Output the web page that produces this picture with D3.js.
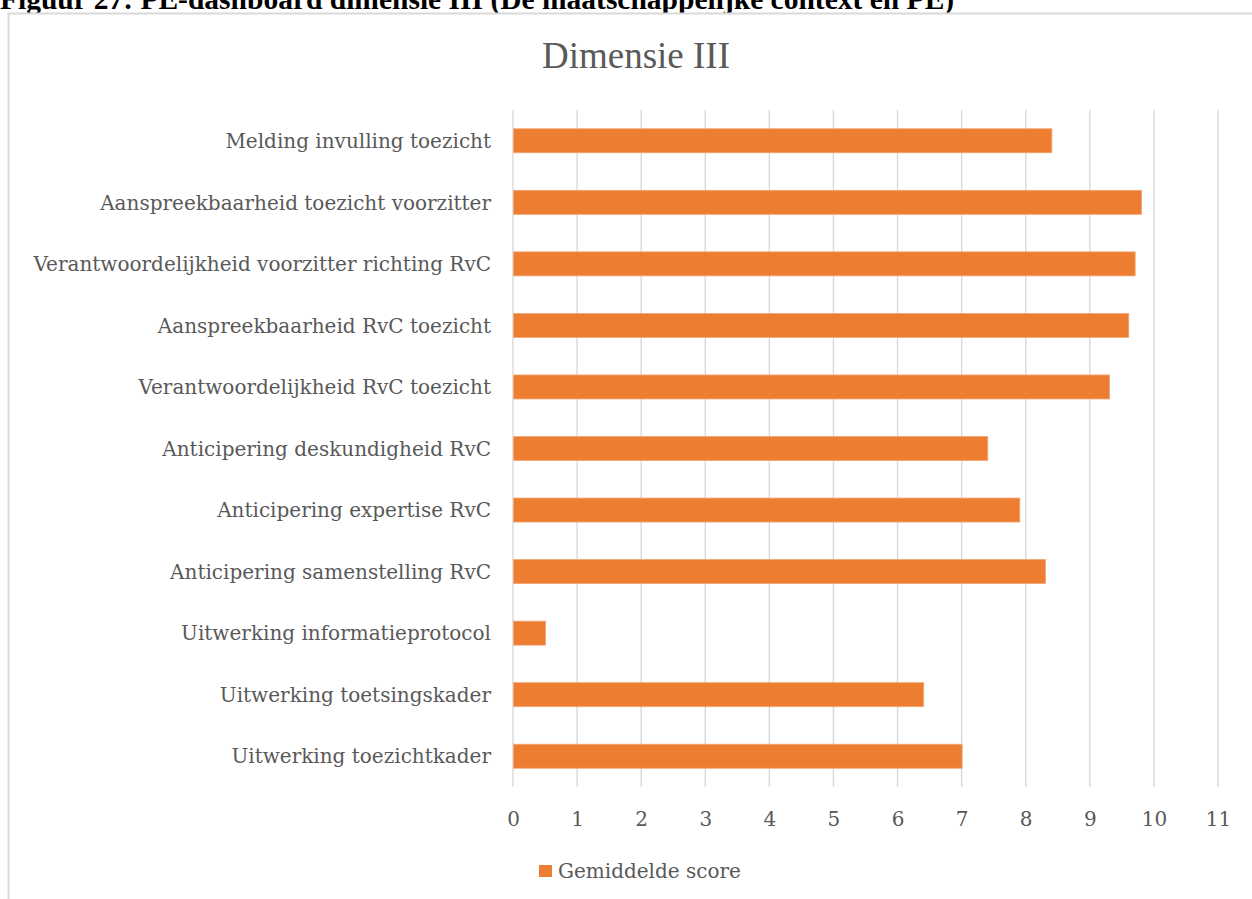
<!DOCTYPE html>
<html>
<head>
<meta charset="utf-8">
<script src="https://cdn.jsdelivr.net/npm/d3@7"></script>
<style>
  html, body { margin: 0; padding: 0; background: #fff; }
  svg { display: block; }
</style>
</head>
<body>
<script>
// Dimensie III — gemiddelde score per onderdeel
const categories = [
  "Melding invulling toezicht",
  "Aanspreekbaarheid toezicht voorzitter",
  "Verantwoordelijkheid voorzitter richting RvC",
  "Aanspreekbaarheid RvC toezicht",
  "Verantwoordelijkheid RvC toezicht",
  "Anticipering deskundigheid RvC",
  "Anticipering expertise RvC",
  "Anticipering samenstelling RvC",
  "Uitwerking informatieprotocol",
  "Uitwerking toetsingskader",
  "Uitwerking toezichtkader"
];
const scores = [8.4, 9.8, 9.7, 9.6, 9.3, 7.4, 7.9, 8.3, 0.5, 6.4, 7.0];
const tickValues = [0, 1, 2, 3, 4, 5, 6, 7, 8, 9, 10, 11];
const seriesName = "Gemiddelde score";
const chartTitle = "Dimensie III";
const figureCaption = "Figuur 27: PE-dashboard dimensie III (De maatschappelijke context en PE)";

const W = 1252, H = 899;
const barColor = "#ed7d31";
const textColor = "#595959";
const gridColor = "#d9d9d9";
const serif = "'DejaVu Serif', serif";

const svg = d3.select("body").append("svg")
  .attr("width", W).attr("height", H);

svg.append("rect").attr("width", W).attr("height", H).attr("fill", "#fff");

// caption above the chart frame
svg.append("text")
  .attr("x", 0).attr("y", 9)
  .attr("font-family", "'Liberation Serif', serif")
  .attr("font-weight", "bold")
  .attr("font-size", 29.5)
  .attr("fill", "#000")
  .text(figureCaption);

// chart frame
svg.append("rect")
  .attr("x", 8.5).attr("y", 13.5)
  .attr("width", 1262).attr("height", 900)
  .attr("fill", "#fff")
  .attr("stroke", gridColor)
  .attr("stroke-width", 2);

// chart title
svg.append("text")
  .attr("x", 636).attr("y", 68)
  .attr("text-anchor", "middle")
  .attr("font-family", "'Liberation Serif', serif")
  .attr("font-size", 37)
  .attr("fill", textColor)
  .text(chartTitle);

const x = d3.scaleLinear().domain([0, 11]).range([513, 1218]);
const y = d3.scaleBand()
  .domain(categories)
  .range([110, 787])
  .paddingInner(0.61)
  .paddingOuter(0.305);

// vertical gridlines
svg.append("g")
  .selectAll("line")
  .data(tickValues)
  .join("line")
  .attr("x1", d => x(d)).attr("x2", d => x(d))
  .attr("y1", 110).attr("y2", 787)
  .attr("stroke", gridColor)
  .attr("stroke-width", 1.4);

// bars
svg.append("g")
  .selectAll("rect")
  .data(categories.map((c, i) => ({ c, v: scores[i] })))
  .join("rect")
  .attr("x", x(0) + 0.5)
  .attr("y", d => y(d.c))
  .attr("width", d => x(d.v) - x(0))
  .attr("height", y.bandwidth())
  .attr("fill", barColor)
  .attr("stroke", "#f4a574")
  .attr("stroke-width", 0.8);

// category labels
svg.append("g")
  .selectAll("text")
  .data(categories)
  .join("text")
  .attr("x", 491)
  .attr("y", d => y(d) + y.bandwidth() / 2)
  .attr("dy", "0.36em")
  .attr("text-anchor", "end")
  .attr("font-family", serif)
  .attr("font-size", 20)
  .attr("fill", textColor)
  .text(d => d);

// value axis labels
const xAxis = d3.axisBottom(x).tickValues(tickValues).tickSize(0).tickFormat(d3.format("d"));
const axisG = svg.append("g")
  .attr("transform", "translate(0,826)")
  .call(xAxis);
axisG.select(".domain").remove();
axisG.selectAll("text")
  .attr("y", 0)
  .attr("dy", 0)
  .attr("font-family", serif)
  .attr("font-size", 20)
  .attr("fill", textColor);

// legend
const legend = svg.append("g").attr("transform", "translate(539,865)");
legend.append("rect")
  .attr("width", 13).attr("height", 12)
  .attr("fill", barColor);
legend.append("text")
  .attr("x", 19).attr("y", 13)
  .attr("font-family", serif)
  .attr("font-size", 20)
  .attr("fill", textColor)
  .text(seriesName);
</script>
</body>
</html>
